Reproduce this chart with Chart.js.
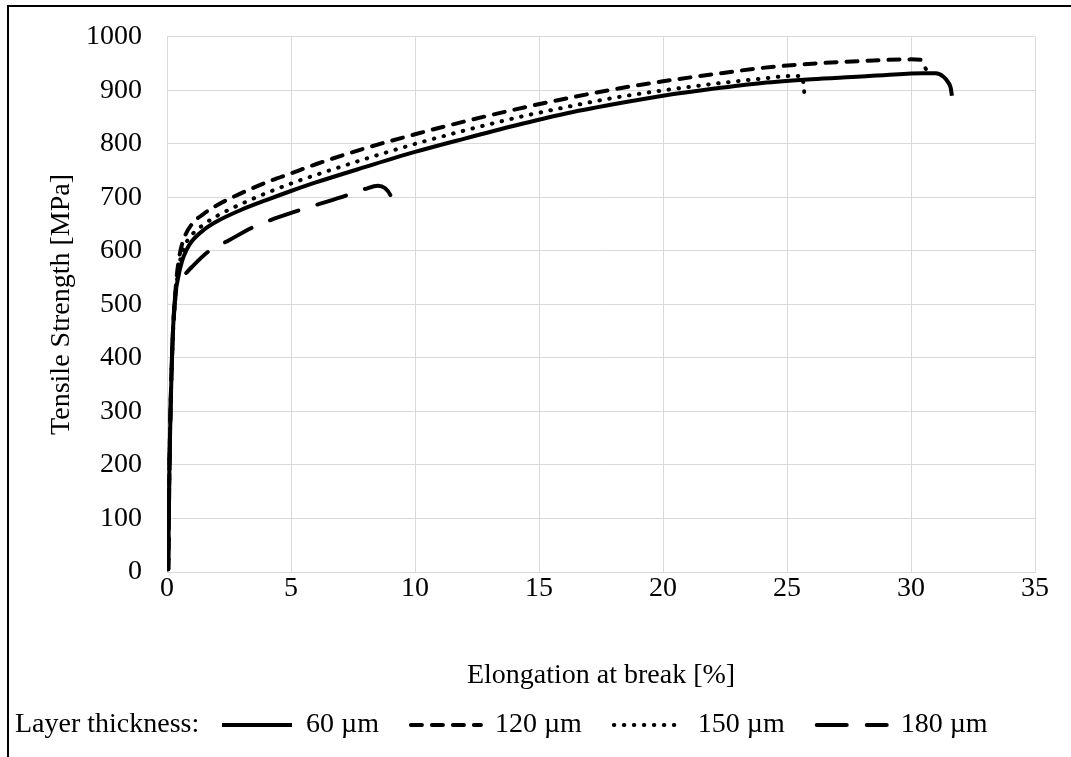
<!DOCTYPE html>
<html>
<head>
<meta charset="utf-8">
<script src="https://cdn.jsdelivr.net/npm/chart.js@4.4.1/dist/chart.umd.min.js"></script>
<style>
  html, body { margin: 0; padding: 0; background: #fff; overflow: hidden; }
  #wrap { position: relative; width: 1071px; height: 757px; overflow: hidden; }
  #frame { position: absolute; left: 7px; top: 5px; width: 1200px; height: 900px;
           border-left: 2px solid #000; border-top: 2px solid #000; pointer-events: none; }
</style>
</head>
<body>
<div id="wrap">
  <canvas id="myChart" width="1071" height="757"></canvas>
  <div id="frame"></div>
</div>
<script>
// elongation [%] and tensile strength [MPa]
var strain60  = [0.05, 0.1, 0.2, 0.3, 0.45, 0.6, 0.8, 1, 1.5, 2, 3, 4, 5, 6, 8, 10, 12, 14, 16, 18, 20, 22, 24, 26, 28, 29, 30.5, 31, 31.3, 31.5, 31.6, 31.65];
var stress60  = [5, 200, 400, 500, 550, 580, 603, 618, 640, 655, 677, 695, 712, 728, 757, 785, 810, 834, 856, 874, 890, 903, 914, 921, 926, 929, 932, 932, 926, 915, 905, 890];

var strain120 = [0.05, 0.1, 0.2, 0.35, 0.5, 0.7, 1, 1.5, 2, 3, 4, 5, 6, 8, 10, 12, 14, 16, 18, 20, 22, 24, 26, 28, 30, 30.4, 30.6];
var stress120 = [5, 200, 400, 530, 590, 625, 650, 670, 685, 708, 728, 745, 762, 792, 818, 842, 864, 884, 902, 917, 930, 942, 950, 955, 958, 957, 940];

var strain150 = [0.05, 0.1, 0.2, 0.35, 0.5, 0.7, 1, 1.5, 2, 3, 4, 5, 6, 8, 10, 12, 14, 16, 18, 20, 22, 24, 25.2, 25.6, 25.68, 25.72];
var stress150 = [5, 200, 400, 520, 575, 608, 630, 650, 665, 688, 708, 726, 742, 772, 800, 825, 848, 868, 886, 900, 912, 922, 927, 927, 905, 880];

var strain180 = [0.05, 0.1, 0.2, 0.35, 0.5, 0.7, 1, 1.7, 2.5, 3.5, 5.4, 7, 8, 8.5, 8.8, 9.0, 9.1, 9.2];
var stress180 = [5, 200, 400, 520, 545, 555, 570, 600, 620, 645, 677, 700, 716, 722, 717, 705, 690, 671];

var seriesNames = ['60 µm', '120 µm', '150 µm', '180 µm'];
var legendPrefix = 'Layer thickness:';
var xTicks = [0, 5, 10, 15, 20, 25, 30, 35];
var yTicks = [0, 100, 200, 300, 400, 500, 600, 700, 800, 900, 1000];

var serif = "'Liberation Serif', 'Times New Roman', serif";
var labelSize = 28;

function pairs(xs, ys) {
    return xs.map(function (x, i) { return {x: x, y: ys[i]}; });
}

function curve(label, xs, ys, dash, cap) {
    return {
        label: label,
        data: pairs(xs, ys),
        borderColor: '#000',
        backgroundColor: '#000',
        borderWidth: 4,
        borderDash: dash,
        borderCapStyle: cap,
        borderJoinStyle: 'round',
        pointRadius: 0,
        pointHoverRadius: 0,
        fill: false,
        cubicInterpolationMode: 'monotone'
    };
}

// legend sits at the bottom; the "Layer thickness:" caption is written to its left
var legendPrefixPlugin = {
    id: 'legendPrefix',
    afterLayout: function (chart) {
        var lg = chart.legend;
        var pad = chart.options.plugins.legend.labels.padding;
        lg.left = 222 - pad;
        lg.top = 725 - pad - labelSize / 2;
    },
    afterDraw: function (chart) {
        var ctx = chart.ctx;
        ctx.save();
        ctx.font = labelSize + 'px ' + serif;
        ctx.fillStyle = '#000';
        ctx.textAlign = 'left';
        ctx.textBaseline = 'middle';
        ctx.fillText(legendPrefix, 15, 725);
        ctx.restore();
    }
};

new Chart(document.getElementById('myChart'), {
    type: 'line',
    data: {
        datasets: [
            curve(seriesNames[0], strain60, stress60, [], 'butt'),
            curve(seriesNames[1], strain120, stress120, [11, 10], 'round'),
            curve(seriesNames[2], strain150, stress150, [0.5, 9.5], 'round'),
            curve(seriesNames[3], strain180, stress180, [30, 20], 'round')
        ]
    },
    options: {
        responsive: false,
        animation: false,
        devicePixelRatio: 1,
        layout: { padding: { left: 10, right: 36, top: 28, bottom: -19 } },
        scales: {
            x: {
                type: 'linear',
                min: xTicks[0],
                max: xTicks[xTicks.length - 1],
                afterBuildTicks: function (axis) { axis.ticks = xTicks.map(function (v) { return {value: v}; }); },
                ticks: { font: { family: serif, size: labelSize }, color: '#000', padding: 0,
                         callback: function (v) { return String(v); } },
                grid: { color: '#d9d9d9', lineWidth: 1, drawTicks: false },
                border: { color: '#d9d9d9' },
                title: { display: true, text: 'Elongation at break [%]', color: '#000',
                         font: { family: serif, size: labelSize }, padding: { top: 53.6, bottom: 13.2 } }
            },
            y: {
                min: yTicks[0],
                max: yTicks[yTicks.length - 1],
                afterBuildTicks: function (axis) { axis.ticks = yTicks.map(function (v) { return {value: v}; }); },
                ticks: { font: { family: serif, size: labelSize, lineHeight: 0.85 }, color: '#000', padding: 25,
                         callback: function (v) { return String(v); } },
                grid: { color: '#d9d9d9', lineWidth: 1, drawTicks: false },
                border: { color: '#d9d9d9' },
                title: { display: true, text: 'Tensile Strength [MPa]', color: '#000',
                         font: { family: serif, size: labelSize }, padding: { top: 35, bottom: -17.6 } }
            }
        },
        plugins: {
            tooltip: { enabled: false },
            legend: {
                position: 'bottom',
                align: 'start',
                labels: {
                    usePointStyle: true,
                    pointStyle: 'line',
                    pointStyleWidth: 70,
                    padding: 32,
                    color: '#000',
                    font: { family: serif, size: labelSize },
                    generateLabels: function (chart) {
                        return chart.data.datasets.map(function (ds, i) {
                            return {
                                text: ds.label,
                                datasetIndex: i,
                                pointStyle: 'line',
                                fillStyle: ds.borderColor,
                                strokeStyle: ds.borderColor,
                                fontColor: '#000',
                                lineWidth: ds.borderWidth,
                                lineDash: ds.borderDash,
                                lineCap: ds.borderCapStyle,
                                hidden: !chart.isDatasetVisible(i)
                            };
                        });
                    }
                }
            }
        }
    },
    plugins: [legendPrefixPlugin]
});
</script>
</body>
</html>
